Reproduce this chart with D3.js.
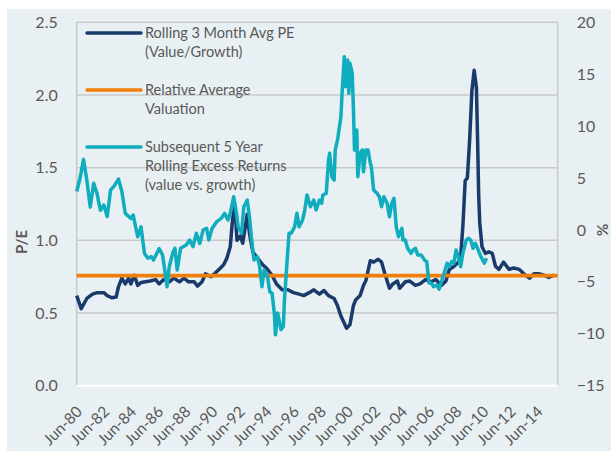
<!DOCTYPE html>
<html>
<head>
<meta charset="utf-8">
<script src="https://cdn.jsdelivr.net/npm/d3@7"></script>
<style>
  body { margin: 0; background: #ffffff; }
  svg text { font-family: Lato, "Carlito", "Liberation Sans", sans-serif; fill: #595959; }
</style>
</head>
<body>
<div id="chart"></div>
<script>
// tamaños
var chart_width  = 611;
var chart_height = 451;

var plot = { left: 76.7, right: 557.7, top: 22.3, bottom: 385.7 };

// Rolling 3 month avg PE (value/growth), eje izquierdo
var navyDates = ["1980-06","1980-10","1981-03","1981-08","1981-12","1982-06","1982-09","1983-01","1983-05","1983-07",
  "1983-10","1984-01","1984-04","1984-06","1984-09","1984-12","1985-03","1985-07","1985-11","1986-04",
  "1986-07","1986-11","1987-04","1987-08","1988-01","1988-05","1988-09","1989-02","1989-05","1989-09",
  "1989-12","1990-05","1990-08","1990-12","1991-04","1991-07","1991-10","1991-12","1992-02","1992-04",
  "1992-07","1992-09","1993-01","1993-03","1993-06","1993-10","1994-03","1994-06","1994-11","1995-03",
  "1995-08","1996-01","1996-06","1996-11","1997-03","1997-08","1997-12","1998-05","1998-09","1999-01",
  "1999-06","1999-09","1999-12","2000-03","2000-05","2000-08","2000-11","2001-01","2001-05","2001-08",
  "2001-10","2002-02","2002-05","2002-09","2002-12","2003-03","2003-07","2003-10","2004-02","2004-04",
  "2004-09","2005-01","2005-06","2005-10","2006-03","2006-08","2006-12","2007-05","2007-09","2007-12",
  "2008-04","2008-08","2008-10","2008-12","2009-02","2009-04","2009-06","2009-08","2009-10","2009-12",
  "2010-01","2010-02","2010-03","2010-05","2010-08","2010-11","2011-02","2011-05","2011-08","2011-12",
  "2012-05","2012-09","2013-02","2013-06","2013-11","2014-03","2014-07","2014-12","2015-04","2015-09"];
var navyValues = [0.62,0.53,0.60,0.63,0.64,0.64,0.62,0.605,0.61,0.68,
  0.74,0.70,0.74,0.70,0.76,0.69,0.71,0.715,0.72,0.73,
  0.70,0.73,0.715,0.74,0.715,0.74,0.715,0.715,0.685,0.715,
  0.77,0.75,0.77,0.80,0.83,0.876,0.956,1.14,1.24,1.0,
  1.03,0.98,1.18,1.05,0.92,0.88,0.83,0.81,0.76,0.70,
  0.66,0.66,0.64,0.63,0.62,0.64,0.66,0.63,0.655,0.62,
  0.60,0.55,0.48,0.43,0.395,0.42,0.55,0.59,0.62,0.69,
  0.72,0.86,0.85,0.87,0.85,0.77,0.67,0.70,0.72,0.67,
  0.715,0.72,0.69,0.70,0.73,0.715,0.73,0.69,0.72,0.80,
  0.82,0.85,0.88,1.10,1.41,1.43,1.69,2.03,2.17,2.05,
  1.70,1.30,1.12,0.956,0.91,0.92,0.91,0.82,0.80,0.85,
  0.80,0.81,0.80,0.77,0.74,0.77,0.77,0.76,0.745,0.76];

// Relative average valuation
var avgValuation = 0.757;

// Subsequent 5 year rolling excess returns (%), eje derecho
var tealDates = ["1980-06","1980-09","1980-12","1981-03","1981-06","1981-09","1981-12","1982-03","1982-06","1982-09",
  "1982-12","1983-03","1983-07","1983-10","1984-01","1984-06","1984-08","1984-12","1985-03","1985-06",
  "1985-09","1985-12","1986-02","1986-05","1986-07","1986-10","1986-12","1987-02","1987-04","1987-07",
  "1987-09","1987-11","1988-02","1988-07","1988-10","1989-01","1989-04","1989-07","1989-10","1990-01",
  "1990-03","1990-06","1990-10","1991-02","1991-05","1991-08","1991-10","1992-01","1992-03","1992-05",
  "1992-08","1992-10","1993-01","1993-03","1993-05","1993-07","1993-10","1993-12","1994-02","1994-04",
  "1994-07","1994-09","1994-11","1995-01","1995-02","1995-04","1995-07","1995-09","1995-10","1995-12",
  "1996-02","1996-04","1996-07","1996-09","1996-11","1997-02","1997-04","1997-06","1997-09","1997-12",
  "1998-02","1998-05","1998-07","1998-08","1998-11","1999-01","1999-02","1999-04","1999-06","1999-07",
  "1999-09","1999-12","2000-01","2000-03","2000-04","2000-06","2000-07","2000-08","2000-10","2000-11",
  "2000-12","2001-02","2001-03","2001-05","2001-07","2001-08","2001-10","2001-12","2002-02","2002-03",
  "2002-05","2002-08","2002-10","2002-12","2003-02","2003-05","2003-07","2003-09","2003-11","2004-01",
  "2004-03","2004-06","2004-07","2004-09","2004-11","2005-02","2005-04","2005-06","2005-08","2005-11",
  "2006-02","2006-04","2006-06","2006-08","2006-10","2007-01","2007-03","2007-05","2007-07","2007-10",
  "2007-12","2008-02","2008-04","2008-06","2008-08","2008-10","2008-12","2009-03","2009-05","2009-07",
  "2009-09","2009-11","2010-01","2010-04","2010-07","2010-09"];
var tealValues = [3.7,5.0,6.8,4.8,2.2,4.5,3.5,1.9,2.4,1.3,
  3.85,4.2,4.9,3.7,1.6,1.1,1.44,-0.65,0.3,-2.25,
  -2.73,-2.57,-2.9,-2.25,-1.8,-2.4,-3.86,-5.46,-3.54,-2.25,
  -1.76,-3.86,-1.76,-1.45,-0.97,-1.6,-0.32,-1.3,0.0,0.16,
  -0.97,0.16,0.8,1.12,1.6,0.96,1.6,3.2,2.0,0.3,
  -0.32,2.24,2.88,1.28,-0.97,-2.9,-2.57,-3.54,-5.46,-3.86,
  -4.5,-5.95,-6.1,-8.0,-10.1,-8.0,-9.6,-9.3,-6.75,-3.54,
  -0.32,-0.32,0.3,1.6,0.3,0.96,1.92,3.37,2.24,2.88,
  1.92,2.88,2.56,3.37,3.53,6.74,7.38,5.13,4.8,7.7,
  8.67,10.9,13.16,16.69,13.8,16.37,13.16,16.05,15.1,11.87,
  7.7,9.63,5.13,7.38,7.7,5.6,7.7,7.7,6.42,6.1,
  3.85,3.53,3.2,2.24,3.2,2.56,1.28,2.56,3.05,0.3,
  -0.65,0.16,-0.97,-0.97,-1.77,-2.25,-1.93,-1.77,-2.4,-2.4,
  -2.9,-3.05,-5.1,-5.1,-5.46,-5.3,-5.7,-4.98,-4.34,-3.2,
  -3.54,-3.05,-3.2,-1.93,-2.57,-3.54,-2.25,-0.97,-0.8,-0.97,
  -1.77,-1.28,-1.77,-2.57,-3.2,-2.73];

var leftTicks  = [0, 0.5, 1.0, 1.5, 2.0, 2.5];
var rightTicks = [-15, -10, -5, 0, 5, 10, 15, 20];
var xTickYears = d3.range(1980, 2015, 2);

var legendItems = [
  { lines: ["Rolling 3 Month Avg PE", "(Value/Growth)"], color: "#1a3a6c" },
  { lines: ["Relative Average", "Valuation"], color: "#f07f09" },
  { lines: ["Subsequent 5 Year", "Rolling Excess Returns", "(value vs. growth)"], color: "#0fadbd" }
];

var parseMonth = d3.timeParse("%Y-%m");

// Create SVG
var svg = d3.select("#chart")
  .append("svg")
  .attr("width", chart_width)
  .attr("height", chart_height);

svg.append("rect")
  .attr("width", chart_width)
  .attr("height", chart_height)
  .style("fill", "#ffffff");

// fondo gris azulado
svg.append("rect")
  .attr("x", 7)
  .attr("y", 9)
  .attr("width", chart_width - 7)
  .attr("height", chart_height - 9)
  .style("fill", "#e8f0f3");

// Escalas
var escalaX = d3.scaleTime()
  .domain([parseMonth("1980-06"), parseMonth("2015-12")])
  .range([plot.left, plot.right]);

var escalaY = d3.scaleLinear()
  .domain([0, 2.5])
  .range([plot.bottom, plot.top]);

var escalaY2 = d3.scaleLinear()
  .domain([-15, 20])
  .range([plot.bottom, plot.top]);

// grid
svg.append("g")
  .selectAll("line")
  .data(leftTicks.filter(d => d > 0))
  .join("line")
  .attr("x1", plot.left)
  .attr("x2", plot.right)
  .attr("y1", d => escalaY(d))
  .attr("y2", d => escalaY(d))
  .style("stroke", "#c9c9c9")
  .style("stroke-width", 1.5);

// bordes laterales
svg.append("line")
  .attr("x1", plot.left).attr("x2", plot.left)
  .attr("y1", plot.top).attr("y2", plot.bottom)
  .style("stroke", "#c9c9c9").style("stroke-width", 1.5);
svg.append("line")
  .attr("x1", plot.right).attr("x2", plot.right)
  .attr("y1", plot.top).attr("y2", plot.bottom)
  .style("stroke", "#c9c9c9").style("stroke-width", 1.5);

// linea del cero en blanco
svg.append("line")
  .attr("x1", plot.left).attr("x2", plot.right)
  .attr("y1", escalaY(0)).attr("y2", escalaY(0))
  .style("stroke", "#ffffff").style("stroke-width", 2);

// Ejes
var ejeY = d3.axisLeft(escalaY)
  .tickValues(leftTicks)
  .tickSize(0)
  .tickPadding(19)
  .tickFormat(d3.format(".1f"));

svg.append("g")
  .attr("transform", "translate(" + plot.left + ",0)")
  .call(ejeY)
  .call(g => g.select(".domain").remove())
  .selectAll("text")
  .style("font-size", "16px")
  .attr("fill", "#595959");

var ejeY2 = d3.axisRight(escalaY2)
  .tickValues(rightTicks)
  .tickSize(0)
  .tickPadding(19);

svg.append("g")
  .attr("transform", "translate(" + plot.right + ",0)")
  .call(ejeY2)
  .call(g => g.select(".domain").remove())
  .selectAll("text")
  .style("font-size", "16px")
  .attr("fill", "#595959");

var ejeX = d3.axisBottom(escalaX)
  .tickValues(xTickYears.map(y => new Date(y, 5, 1)))
  .tickSize(0)
  .tickFormat(d3.timeFormat("%b-%y"));

svg.append("g")
  .attr("transform", "translate(0," + plot.bottom + ")")
  .call(ejeX)
  .call(g => g.select(".domain").remove())
  .selectAll("text")
  .attr("y", 0)
  .attr("dy", 0)
  .attr("text-anchor", "end")
  .attr("transform", "translate(6,27) rotate(-45)")
  .style("font-size", "15.5px")
  .attr("fill", "#595959");

// titulos de ejes
svg.append("text")
  .attr("transform", "translate(27,242) rotate(-90)")
  .attr("text-anchor", "middle")
  .style("font-size", "15px")
  .style("font-weight", "bold")
  .text("P/E");

svg.append("text")
  .attr("transform", "translate(597,230) rotate(90)")
  .attr("text-anchor", "middle")
  .style("font-size", "15px")
  .style("font-weight", "bold")
  .text("%");

// series
var navyData = navyDates.map((d, i) => ({ date: parseMonth(d), value: navyValues[i] }));
var tealData = tealDates.map((d, i) => ({ date: parseMonth(d), value: tealValues[i] }));

var lineLeft = d3.line()
  .x(d => escalaX(d.date))
  .y(d => escalaY(d.value));

var lineRight = d3.line()
  .x(d => escalaX(d.date))
  .y(d => escalaY2(d.value));

svg.append("path")
  .datum(navyData)
  .attr("fill", "none")
  .attr("stroke", legendItems[0].color)
  .attr("stroke-width", 3.5)
  .attr("stroke-linejoin", "round")
  .attr("d", lineLeft);

svg.append("path")
  .datum(escalaX.domain().map(d => ({ date: d, value: avgValuation })))
  .attr("fill", "none")
  .attr("stroke", legendItems[1].color)
  .attr("stroke-width", 3.8)
  .attr("d", lineLeft);

svg.append("path")
  .datum(tealData)
  .attr("fill", "none")
  .attr("stroke", legendItems[2].color)
  .attr("stroke-width", 3.5)
  .attr("stroke-linejoin", "round")
  .attr("d", lineRight);

// leyenda
var legendY = [33, 90, 147];
var leyenda = svg.append("g");

legendItems.forEach(function(item, i) {
  leyenda.append("line")
    .attr("x1", 87).attr("x2", 141)
    .attr("y1", legendY[i]).attr("y2", legendY[i])
    .style("stroke", item.color)
    .style("stroke-width", 3.5)
    .style("stroke-linecap", "round");
  leyenda.append("text")
    .attr("x", 145)
    .attr("y", legendY[i] + 5)
    .style("font-size", "14.5px")
    .selectAll("tspan")
    .data(item.lines)
    .join("tspan")
    .attr("x", 145)
    .attr("dy", (d, j) => j == 0 ? 0 : 19)
    .text(d => d);
});
</script>
</body>
</html>
